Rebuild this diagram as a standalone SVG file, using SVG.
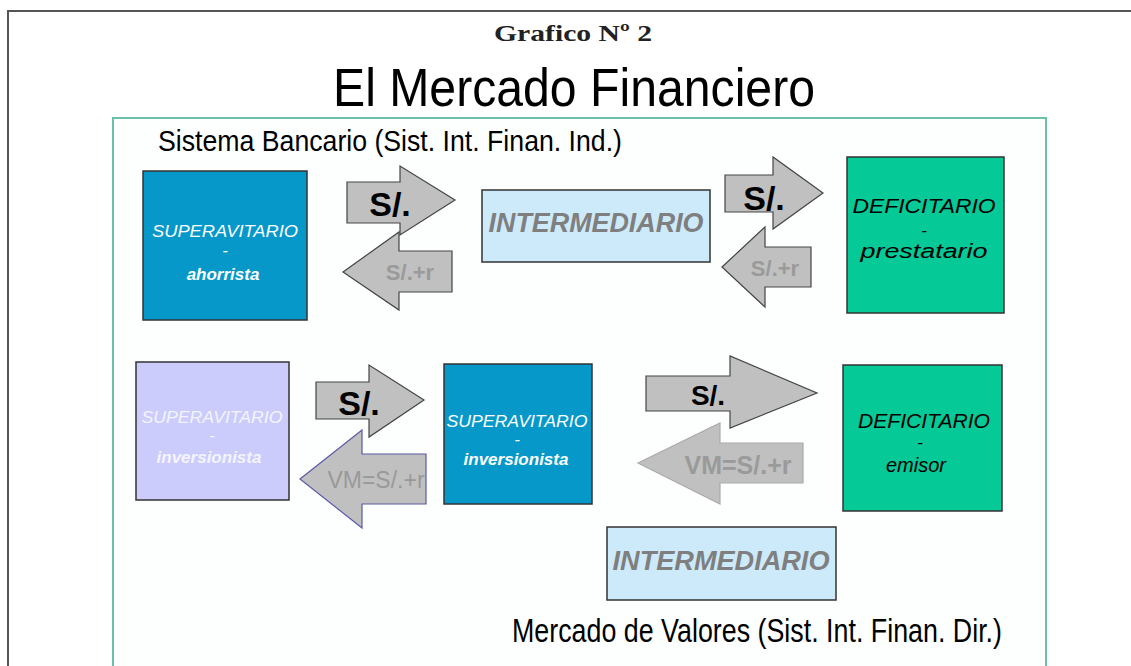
<svg xmlns="http://www.w3.org/2000/svg" width="1131" height="666" viewBox="0 0 1131 666">
<style>
.sans{font-family:"Liberation Sans",Arial,sans-serif}
.box{stroke:#333;stroke-width:1.5}
.blue{fill:#0598c9}
.green{fill:#05c996}
.lav{fill:#ccccfc}
.lblue{fill:#cdeafb}
.arr{fill:#c0c0c0;stroke:#444;stroke-width:1.2}
.nt{font-family:"Liberation Sans",Arial,sans-serif;font-style:italic;font-size:17px;text-anchor:middle}
.big{font-size:20px}
.w{fill:#ffffff}
.b{font-weight:bold}
.lbl{font-family:"Liberation Sans",Arial,sans-serif;font-weight:bold;text-anchor:middle}
.mid{font-family:"Liberation Sans",Arial,sans-serif;font-weight:bold;font-style:italic;font-size:27px;fill:#7f7f7f;text-anchor:middle}
</style>
<rect width="1131" height="666" fill="#ffffff"/>
<path d="M8,670 V11 H1135" fill="none" stroke="#555" stroke-width="2"/>
<path d="M113,670 V118 H1046 V670" fill="#fdfffe" stroke="#6cbfa8" stroke-width="2"/>
<text x="573" y="41" font-family="'Liberation Serif',serif" font-weight="bold" font-size="24" text-anchor="middle" fill="#222" textLength="158" lengthAdjust="spacingAndGlyphs">Grafico Nº 2</text>
<text x="574" y="106" class="sans" font-size="53" text-anchor="middle" fill="#000" textLength="482" lengthAdjust="spacingAndGlyphs">El Mercado Financiero</text>
<text x="158" y="151" class="sans" font-size="30" fill="#000" textLength="464" lengthAdjust="spacingAndGlyphs">Sistema Bancario (Sist. Int. Finan. Ind.)</text>
<text x="512" y="642" class="sans" font-size="33" fill="#000" textLength="490" lengthAdjust="spacingAndGlyphs">Mercado de Valores (Sist. Int. Finan. Dir.)</text>

<g id="connectors">
<path class="arr" d="M347,182 H400 V166 L455,200 L400,235 V223 H347 Z"/>
<text class="lbl" x="390" y="216" font-size="34" fill="#000">S/.</text>
<path class="arr" d="M343,272 L399,232 V251 H452 V292 H399 V310 Z"/>
<text class="lbl" x="410" y="280" font-size="22" fill="#9a9a9a">S/.+r</text>
<path class="arr" d="M725,175 H773 V157 L823,193 L773,229 V212 H725 Z"/>
<text class="lbl" x="764" y="210" font-size="34" fill="#000">S/.</text>
<path class="arr" d="M722,267 L765,227 V247 H811 V287 H765 V307 Z"/>
<text class="lbl" x="775" y="276" font-size="22" fill="#9a9a9a">S/.+r</text>
<path class="arr" d="M316,382 H369 V365 L424,400 L369,437 V419 H316 Z"/>
<text class="lbl" x="359" y="415" font-size="34" fill="#000">S/.</text>
<path class="arr" d="M300,479 L362,430 V454 H426 V504 H362 V528 Z" style="stroke:#5a5aa8"/>
<text x="376" y="488" class="sans" font-size="23" text-anchor="middle" fill="#999">VM=S/.+r</text>
<path class="arr" d="M646,376 H730 V356 L817,393 L730,428 V411 H646 Z"/>
<text class="lbl" x="708" y="405" font-size="28" fill="#000">S/.</text>
<path class="arr" d="M638,463 L720,423 V443 H803 V483 H720 V504 Z" style="stroke:#aaa"/>
<text class="lbl" x="738" y="474" font-size="25" fill="#9a9a9a">VM=S/.+r</text>
</g>

<g id="superavitario-ahorrista">
<rect class="box blue" x="143" y="171" width="164" height="149"/>
<text class="nt w" x="225" y="237" textLength="146" lengthAdjust="spacingAndGlyphs">SUPERAVITARIO</text>
<text class="nt w" x="225" y="256">-</text>
<text class="nt w b" x="223" y="280">ahorrista</text>
</g>

<g id="intermediario-1">
<rect class="box lblue" x="482" y="190" width="228" height="72"/>
<text class="mid" x="596" y="232" textLength="215" lengthAdjust="spacingAndGlyphs">INTERMEDIARIO</text>
</g>

<g id="deficitario-prestatario">
<rect class="box green" x="847" y="157" width="157" height="156"/>
<text class="nt big" x="924" y="213" fill="#000" textLength="143" lengthAdjust="spacingAndGlyphs">DEFICITARIO</text>
<text class="nt" x="924" y="236" fill="#000">-</text>
<text class="nt big" x="924" y="258" fill="#000" textLength="127" lengthAdjust="spacingAndGlyphs">prestatario</text>
</g>

<g id="superavitario-inversionista-1">
<rect class="box lav" x="136" y="362" width="153" height="138"/>
<text class="nt" x="212" y="423" fill="#f4f4ff" textLength="141" lengthAdjust="spacingAndGlyphs">SUPERAVITARIO</text>
<text class="nt" x="212" y="441" fill="#f4f4ff">-</text>
<text class="nt b" x="209" y="463" fill="#f4f4ff">inversionista</text>
</g>

<g id="superavitario-inversionista-2">
<rect class="box blue" x="444" y="364" width="148" height="140"/>
<text class="nt w" x="517" y="427" textLength="141" lengthAdjust="spacingAndGlyphs">SUPERAVITARIO</text>
<text class="nt w" x="517" y="445">-</text>
<text class="nt w b" x="516" y="465">inversionista</text>
</g>

<g id="deficitario-emisor">
<rect class="box green" x="843" y="365" width="159" height="146"/>
<text class="nt big" x="924" y="428" fill="#000" textLength="132" lengthAdjust="spacingAndGlyphs">DEFICITARIO</text>
<text class="nt" x="920" y="448" fill="#000">-</text>
<text class="nt big" x="916" y="472" fill="#000">emisor</text>
</g>

<g id="intermediario-2">
<rect class="box lblue" x="607" y="527" width="229" height="73"/>
<text class="mid" x="721" y="570" textLength="217" lengthAdjust="spacingAndGlyphs">INTERMEDIARIO</text>
</g>
</svg>
